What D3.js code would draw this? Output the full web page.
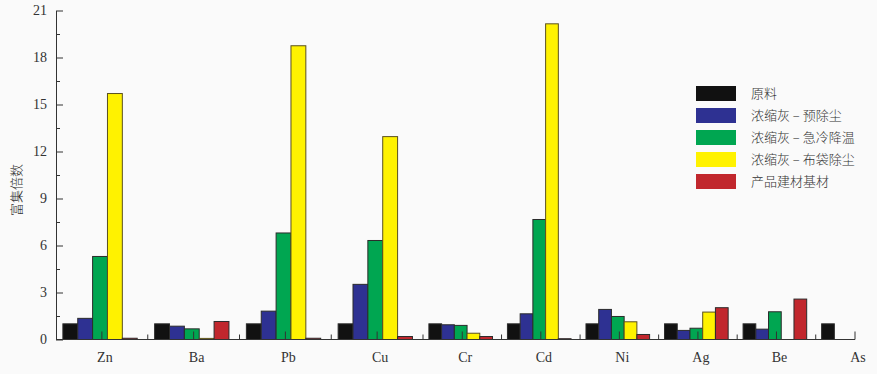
<!DOCTYPE html>
<html>
<head>
<meta charset="utf-8">
<script src="https://cdn.jsdelivr.net/npm/d3@7"></script>
<style>
  html, body { margin: 0; padding: 0; background: #fafafa; }
  svg { display: block; }
</style>
</head>
<body>
<div id="chart"></div>
<script>
// elements on the x axis
const elements = ["Zn", "Ba", "Pb", "Cu", "Cr", "Cd", "Ni", "Ag", "Be", "As"];

// legend names
const seriesNames = ["原料", "浓缩灰 – 预除尘", "浓缩灰 – 急冷降温", "浓缩灰 – 布袋除尘", "产品建材基材"];
const seriesColors = ["#111111", "#2e3192", "#00a651", "#fff200", "#c1272d"];

// enrichment factors, one array per series (null = no bar)
const rawMaterial = [1.0, 1.0, 1.0, 1.0, 1.0, 1.0, 1.0, 1.0, 1.0, 1.0];
const ashPreDust  = [1.35, 0.85, 1.81, 3.52, 0.94, 1.64, 1.92, 0.58, 0.66, null];
const ashQuench   = [5.3, 0.68, 6.8, 6.32, 0.9, 7.66, 1.47, 0.72, 1.77, null];
const ashBagDust  = [15.7, 0.07, 18.75, 12.95, 0.4, 20.15, 1.13, 1.75, null, null];
const productBase = [0.08, 1.15, 0.08, 0.19, 0.19, 0.05, 0.32, 2.03, 2.58, null];

const yTicks = [0, 3, 6, 9, 12, 15, 18, 21];

const series = [rawMaterial, ashPreDust, ashQuench, ashBagDust, productBase];

const width = 877, height = 374;

const svg = d3.select("#chart").append("svg")
  .attr("width", width)
  .attr("height", height)
  .style("background", "#fafafa");

// the groups are not evenly spaced in the original figure, first four are wider
const xScale = d3.scaleLinear().domain([0, 4, 9.5]).range([56, 423, 855]);
const inner = d3.scaleBand().domain(d3.range(series.length)).range([0.075, 0.885]).padding(0);
const yScale = d3.scaleLinear().domain([0, 21]).range([339.5, 10.5]);

// bars
const barData = [];
series.forEach((vals, s) => {
  vals.forEach((v, i) => {
    if (v !== null && v > 0) barData.push({ s, i, v });
  });
});

svg.append("g").selectAll("rect").data(barData).join("rect")
  .attr("x", d => xScale(d.i + inner(d.s)))
  .attr("width", d => xScale(d.i + inner(d.s) + inner.bandwidth()) - xScale(d.i + inner(d.s)))
  .attr("y", d => yScale(d.v))
  .attr("height", d => yScale(0) - yScale(d.v))
  .attr("fill", d => seriesColors[d.s])
  .attr("stroke", d => d.s === 3 ? "#5a5020" : "#2b2b2b")
  .attr("stroke-width", 1);

// y axis, major ticks labelled, minor ticks between
const minorTicks = d3.range(1.5, 21, 3);
svg.append("g")
  .attr("transform", `translate(${xScale(0)},0)`)
  .call(d3.axisLeft(yScale).tickValues(minorTicks).tickSize(-4).tickFormat(""))
  .call(g => g.select(".domain").remove())
  .selectAll("line").attr("stroke", "#333");

const gY = svg.append("g")
  .attr("transform", `translate(${xScale(0)},0)`)
  .call(d3.axisLeft(yScale).tickValues(yTicks).tickSize(-7).tickSizeOuter(0).tickPadding(9));
gY.select(".domain").attr("stroke", "#333");
gY.selectAll("line").attr("stroke", "#333");
gY.selectAll("text")
  .attr("fill", "#333")
  .style("font-family", "'Liberation Serif', 'DejaVu Serif', serif")
  .style("font-size", "14px");

// x axis: boundary ticks and centre ticks, both pointing inward
const boundaries = d3.range(1, 10);
const centres = elements.map((e, i) => i + 0.5);

const axisY = yScale(0);
svg.append("line")
  .attr("x1", xScale(0)).attr("x2", xScale(9.5))
  .attr("y1", axisY).attr("y2", axisY)
  .attr("stroke", "#333");

svg.append("g").selectAll("line.b").data(boundaries).join("line")
  .attr("x1", d => xScale(d)).attr("x2", d => xScale(d))
  .attr("y1", axisY).attr("y2", axisY - 5)
  .attr("stroke", "#333");

svg.append("g").selectAll("line.c").data(centres).join("line")
  .attr("x1", d => xScale(d)).attr("x2", d => xScale(d))
  .attr("y1", axisY).attr("y2", axisY - 8)
  .attr("stroke", "#333");

svg.append("g").selectAll("text").data(elements).join("text")
  .attr("x", (d, i) => xScale(i + 0.5) + 3)
  .attr("y", 362)
  .attr("text-anchor", "middle")
  .attr("fill", "#333")
  .style("font-family", "'Liberation Serif', 'DejaVu Serif', serif")
  .style("font-size", "14px")
  .text(d => d);

// y label
svg.append("text")
  .attr("transform", "translate(21,190) rotate(-90)")
  .attr("text-anchor", "middle")
  .attr("fill", "#333")
  .style("font-family", "'Noto Sans CJK SC', sans-serif")
  .style("font-size", "13px")
  .style("font-weight", 300)
  .text("富集倍数");

// legend
const legend = svg.append("g").attr("transform", "translate(696,86)");
const rows = legend.selectAll("g").data(seriesNames).join("g")
  .attr("transform", (d, i) => `translate(0,${i * 22})`);
rows.append("rect")
  .attr("width", 40).attr("height", 15)
  .attr("fill", (d, i) => seriesColors[i]);
rows.append("text")
  .attr("x", 55).attr("y", 12)
  .attr("fill", "#333")
  .style("font-family", "'Noto Sans CJK SC', sans-serif")
  .style("font-size", "13px")
  .style("font-weight", 300)
  .text(d => d);
</script>
</body>
</html>
